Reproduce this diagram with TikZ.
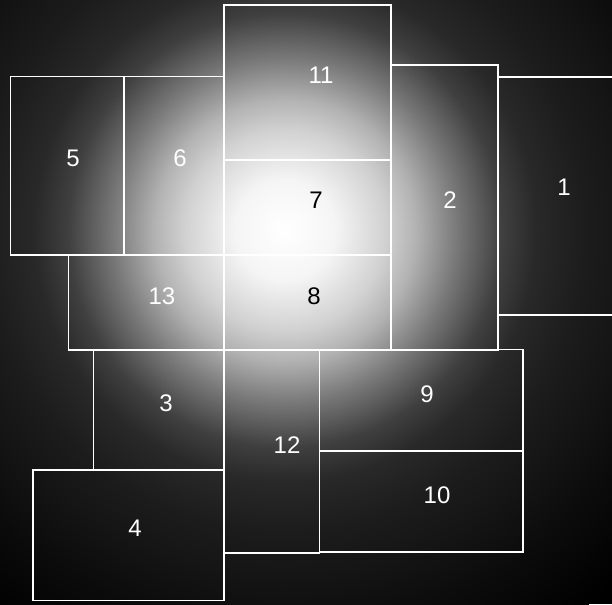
\documentclass[tikz,border=0pt]{standalone}
\usepackage{fontspec}
\setmainfont{Liberation Sans}
\usepackage{tikz}
\usetikzlibrary{positioning}

\pgfdeclareradialshading{glow}{\pgfpoint{0bp}{0bp}}{color(0bp)=(white); color(50bp)=(black!4); color(100bp)=(black!18); color(130bp)=(black!30); color(170bp)=(black!52); color(216bp)=(black!75); color(250bp)=(black!84); color(300bp)=(black!89); color(340bp)=(black!91.5); color(400bp)=(black!95.5); color(480bp)=(black)}

\begin{document}
\begin{tikzpicture}[x=1pt, y=-1pt,
        cellbox/.style={draw=white, line width=1.6pt},
        cellnum/.style={text=white, inner sep=0pt, font=\fontsize{24}{24}\selectfont}, % pixel coordinates, y down
    ]

    \useasboundingbox (0,0) rectangle (612,604);
    \clip (0,0) rectangle (612,604);

    % Background
    \fill[black] (0,0) rectangle (612,604);
    \node[inner sep=0pt, outer sep=0pt] (glow) at (285,230) {\pgfuseshading{glow}};

    % Lines
    \draw[cellbox] (10.5,76.5) rectangle (124,255);
    \draw[cellbox] (124,76.5) rectangle (224,255);
    \draw[cellbox] (224,5) rectangle (391,160);
    \draw[cellbox] (224,160) rectangle (391,255);
    \draw[cellbox] (224,255) rectangle (391,350);
    \draw[cellbox] (391,65) rectangle (498,350);
    \draw[cellbox] (498,77) rectangle (630,315);
    \draw[cellbox] (68.5,255) rectangle (224,350);
    \draw[cellbox] (93.3,350) rectangle (224,469.7);
    \draw[cellbox] (32.7,469.7) rectangle (224,600.3);
    \draw[cellbox] (224,350) rectangle (319.5,552.7);
    \draw[cellbox] (319.5,349.3) rectangle (522.7,451);
    \draw[cellbox] (319.5,451) rectangle (522.7,552);

    % Objects
    \node[cellnum] (cellOne) at (564,187.5) {1};
    \node[cellnum] (cellTwo) at (450,200.5) {2};
    \node[cellnum] (cellThree) at (166,403) {3};
    \node[cellnum] (cellFour) at (135,528.5) {4};
    \node[cellnum] (cellFive) at (73,158) {5};
    \node[cellnum] (cellSix) at (180,158) {6};
    \node[cellnum, text=black] (cellSeven) at (316,200) {7};
    \node[cellnum, text=black] (cellEight) at (314,296) {8};
    \node[cellnum] (cellNine) at (427,394) {9};
    \node[cellnum] (cellTen) at (437,495) {10};
    \node[cellnum] (cellEleven) at (321,75) {11};
    \node[cellnum] (cellTwelve) at (287,445) {12};
    \node[cellnum] (cellThirteen) at (162,296) {13};

\end{tikzpicture}
\end{document}
